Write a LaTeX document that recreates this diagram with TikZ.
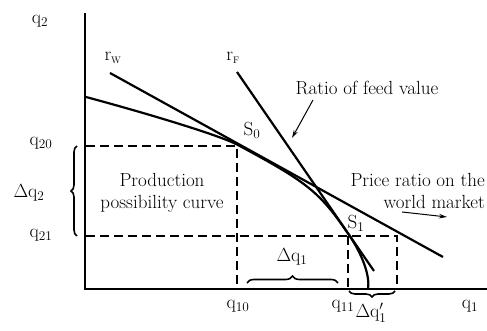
\RequirePackage{fix-cm}
\documentclass[tikz,border=0pt]{standalone}
\usepackage{fontspec}
\usetikzlibrary{decorations.pathreplacing,arrows.meta}
\begin{document}
\begin{tikzpicture}[x=1pt,y=1pt,
  lbl/.style={font=\fontsize{19}{22}\selectfont, inner sep=0pt},
  axisline/.style={line width=2.4pt},
  heavy/.style={line width=2.2pt},
  dashline/.style={line width=2.2pt, dash pattern=on 9pt off 5pt},
  pointer/.style={line width=1pt, -{Stealth[length=8pt,width=4.5pt]}},
  bracestyle/.style={line width=1.6pt, decorate, decoration={brace, amplitude=6pt}}]
\useasboundingbox (0,0) rectangle (487,331);
% axes
\coordinate (O) at (85,42);
\coordinate (ytop) at (85,318);
\coordinate (xend) at (487,42);
\draw[axisline] (ytop) -- (O) -- (xend);
% production possibility curve
\coordinate (P0) at (86,234);
\coordinate (S0) at (237,186.5);
\coordinate (S1) at (349,96);
\coordinate (P3) at (368,42);
\draw[heavy] (P0) .. controls (161.2,213.7) and (221.6,194.5) .. (S0)
  .. controls (308.2,148.3) and (319.4,139.4) .. (S1)
  .. controls (362.6,76.2) and (370.2,54.6) .. (P3);
% price lines
\coordinate (rwa) at (110,258);
\coordinate (rwb) at (443,74);
\coordinate (rfa) at (237,259);
\coordinate (rfb) at (374,60);
\draw[heavy] (rwa) -- (rwb);
\draw[heavy] (rfa) -- (rfb);
% dashed lines
\coordinate (d20a) at (86,185);
\coordinate (d20b) at (237,185);
\coordinate (d10) at (237,43);
\coordinate (d21a) at (86,95);
\coordinate (d21b) at (397,95);
\coordinate (d21c) at (397,43);
\coordinate (d11a) at (348,95);
\coordinate (d11b) at (348,43);
\draw[dashline] (d20a) -- (d20b) -- (d10);
\draw[dashline] (d21a) -- (d21b) -- (d21c);
\draw[dashline] (d11a) -- (d11b);
% braces
\coordinate (b2a) at (77,95);
\coordinate (b2b) at (77,185);
\draw[bracestyle] (b2a) -- (b2b);
\coordinate (b1a) at (247,48);
\coordinate (b1b) at (338,48);
\draw[bracestyle, decoration={amplitude=7pt}] (b1a) -- (b1b);
\coordinate (b3a) at (395,40);
\coordinate (b3b) at (349,40);
\draw[bracestyle] (b3a) -- (b3b);
% labels
\node[lbl] (lq2) at (40,310) {$\mathrm{q}_2$};
\node[lbl] (lq20) at (41,188) {$\mathrm{q}_{20}$};
\node[lbl] (ldq2) at (29,138) {$\Delta\mathrm{q}_2$};
\node[lbl] (lq21) at (41,96) {$\mathrm{q}_{21}$};
\node[lbl] (lq10) at (238,25) {$\mathrm{q}_{10}$};
\node[lbl] (lq11) at (343,25) {$\mathrm{q}_{11}$};
\node[lbl] (lq1) at (470,25) {$\mathrm{q}_1$};
\node[lbl] (ldq1p) at (371,18) {$\Delta\mathrm{q}_1'$};
\node[lbl] (ldq1) at (292,74) {$\Delta\mathrm{q}_1$};
\node[lbl] (lrw) at (113,273) {$\mathrm{r}_{\scriptscriptstyle\mathrm{W}}$};
\node[lbl] (lrf) at (233,273) {$\mathrm{r}_{\scriptscriptstyle\mathrm{F}}$};
\node[lbl] (lS0) at (252,201) {S$_0$};
\node[lbl] (lS1) at (356,108) {S$_1$};
\node[lbl] (feed) at (367,243) {Ratio of feed value};
\node[lbl, align=center] (ppc) at (162,138) {Production\\possibility curve};
\node[lbl, align=right, anchor=east] (world) at (485,140) {Price ratio on the\\world market};
% pointers
\coordinate (fa) at (313,231);
\coordinate (fb) at (292,193);
\draw[pointer] (fa) -- (fb);
\coordinate (wa) at (402,119);
\coordinate (wb) at (447,114);
\draw[pointer] (wa) -- (wb);
\end{tikzpicture}
\end{document}
